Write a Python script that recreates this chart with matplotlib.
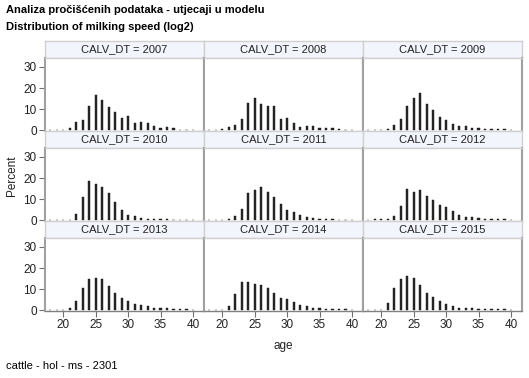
import matplotlib
matplotlib.use("Agg")
import matplotlib.pyplot as plt

plt.rcParams['font.family'] = ['Liberation Sans', 'DejaVu Sans']

ages = list(range(18, 41))
years = [2007, 2008, 2009, 2010, 2011, 2012, 2013, 2014, 2015]

pct_2007 = [0.2, 0.2, 0.2, 0.9, 4.0, 4.8, 11.3, 16.6, 14.1, 10.9, 8.8, 5.6, 6.7, 3.2, 4.0, 3.2, 2.0, 1.2, 1.4, 0.9, 0.3, 0.2, 0.2]
pct_2008 = [0.2, 0.3, 0.6, 1.5, 2.4, 5.3, 12.9, 15.5, 12.6, 11.3, 11.6, 5.3, 5.8, 3.4, 1.6, 1.9, 1.8, 1.0, 1.0, 1.0, 0.6, 0.3, 0.2]
pct_2009 = [0.2, 0.2, 0.3, 0.7, 2.3, 5.3, 11.6, 15.3, 17.4, 12.3, 9.4, 6.3, 4.7, 3.1, 2.1, 1.9, 1.3, 1.0, 0.8, 0.8, 0.6, 0.5, 0.3]
pct_2010 = [0.2, 0.2, 0.2, 0.2, 3.0, 11.0, 18.8, 17.2, 15.7, 13.1, 8.8, 4.9, 2.6, 2.1, 1.1, 0.6, 0.5, 0.5, 0.4, 0.3, 0.3, 0.2, 0.2]
pct_2011 = [0.2, 0.2, 0.3, 0.5, 1.9, 5.3, 13.1, 14.1, 15.9, 13.4, 11.1, 7.6, 4.9, 3.9, 2.6, 1.5, 1.0, 0.7, 0.6, 0.4, 0.3, 0.2, 0.2]
pct_2012 = [0.3, 0.4, 0.6, 0.6, 2.0, 6.8, 14.6, 13.5, 14.1, 11.3, 9.7, 7.1, 6.1, 4.2, 2.5, 1.5, 1.6, 1.1, 0.7, 0.5, 0.5, 0.6, 0.2]
pct_2013 = [0.3, 0.3, 0.3, 1.0, 4.5, 10.4, 14.8, 15.1, 14.6, 11.3, 8.3, 5.7, 4.5, 3.1, 2.3, 1.8, 1.1, 1.1, 1.0, 0.5, 0.5, 0.5, 0.2]
pct_2014 = [0.2, 0.2, 0.3, 1.9, 7.8, 13.3, 13.3, 12.5, 11.8, 10.4, 8.1, 6.0, 5.2, 3.7, 2.4, 1.9, 1.1, 1.1, 0.6, 0.6, 0.5, 0.4, 0.2]
pct_2015 = [0.2, 0.2, 0.3, 3.2, 10.4, 14.6, 16.4, 15.2, 11.8, 8.3, 6.5, 4.4, 3.1, 1.9, 1.3, 1.0, 1.0, 0.6, 0.5, 0.4, 0.4, 0.4, 0.2]

series = [pct_2007, pct_2008, pct_2009, pct_2010, pct_2011, pct_2012, pct_2013, pct_2014, pct_2015]

x_ticks = [20, 25, 30, 35, 40]
y_ticks = [0, 10, 20, 30]

W, H = 529, 378
fig = plt.figure(figsize=(W / 100, H / 100), dpi=100)
fig.patch.set_facecolor('white')

left0 = 45
col_w = 159
top0 = 41
row_step = 90
strip_h = 17
plot_h = 73

dark_frame = '#a0a0a0'
light_frame = '#d0d0d0'
tick_col = '#707070'

def fx(px):
    return px / W

def fy(py):
    return 1 - py / H

for i, (yr, vals) in enumerate(zip(years, series)):
    r, c = divmod(i, 3)
    x0 = left0 + c * col_w
    st = top0 + r * row_step
    # strip
    sax = fig.add_axes([fx(x0), fy(st + strip_h), col_w / W, strip_h / H])
    sax.set_facecolor('#f2f5fc')
    sax.set_xticks([]); sax.set_yticks([])
    for s in sax.spines.values():
        s.set_color(light_frame); s.set_linewidth(1.0)
    sax.text(0.5, 0.5, f'CALV_DT = {yr}', ha='center', va='center', fontsize=8, color='#222222',
             transform=sax.transAxes)
    # plot
    ax = fig.add_axes([fx(x0), fy(st + strip_h + plot_h), col_w / W, plot_h / H])
    ax.bar(ages, vals, width=0.32, color='#2a2a2a', edgecolor='#111111', linewidth=0.3)
    ax.set_xlim(17.2, 41.7)
    ax.set_ylim(-0.35, 34.2)
    ax.spines['left'].set_color(dark_frame); ax.spines['left'].set_linewidth(1.5)
    ax.spines['right'].set_color(dark_frame); ax.spines['right'].set_linewidth(1.5)
    ax.spines['top'].set_color(light_frame); ax.spines['top'].set_linewidth(1.0)
    if r == 2:
        ax.spines['bottom'].set_color('#808080'); ax.spines['bottom'].set_linewidth(1.0)
    else:
        ax.spines['bottom'].set_color(light_frame); ax.spines['bottom'].set_linewidth(1.0)
    ax.tick_params(colors=tick_col, length=4, width=0.8, labelsize=8.5, labelcolor='#222222', pad=2)
    if c == 0:
        ax.set_yticks(y_ticks)
    else:
        ax.set_yticks([])
    if r == 2:
        ax.set_xticks(x_ticks)
    else:
        ax.set_xticks([])

fig.text(fx(6), fy(10), 'Analiza pročišćenih podataka - utjecaji u modelu', ha='left', va='center',
         fontsize=8, fontweight='bold', color='#000000')
fig.text(fx(6), fy(27), 'Distribution of milking speed (log2)', ha='left', va='center',
         fontsize=8, fontweight='bold', color='#000000')
fig.text(fx(6), fy(366), 'cattle - hol - ms - 2301', ha='left', va='center', fontsize=8, color='#000000')
fig.text(fx(12), fy(176), 'Percent', rotation=90, ha='center', va='center', fontsize=8.5, color='#222222')
fig.text(fx(283), fy(346), 'age', ha='center', va='center', fontsize=8.5, color='#222222')

fig.savefig('out.png', dpi=100, facecolor='white')
